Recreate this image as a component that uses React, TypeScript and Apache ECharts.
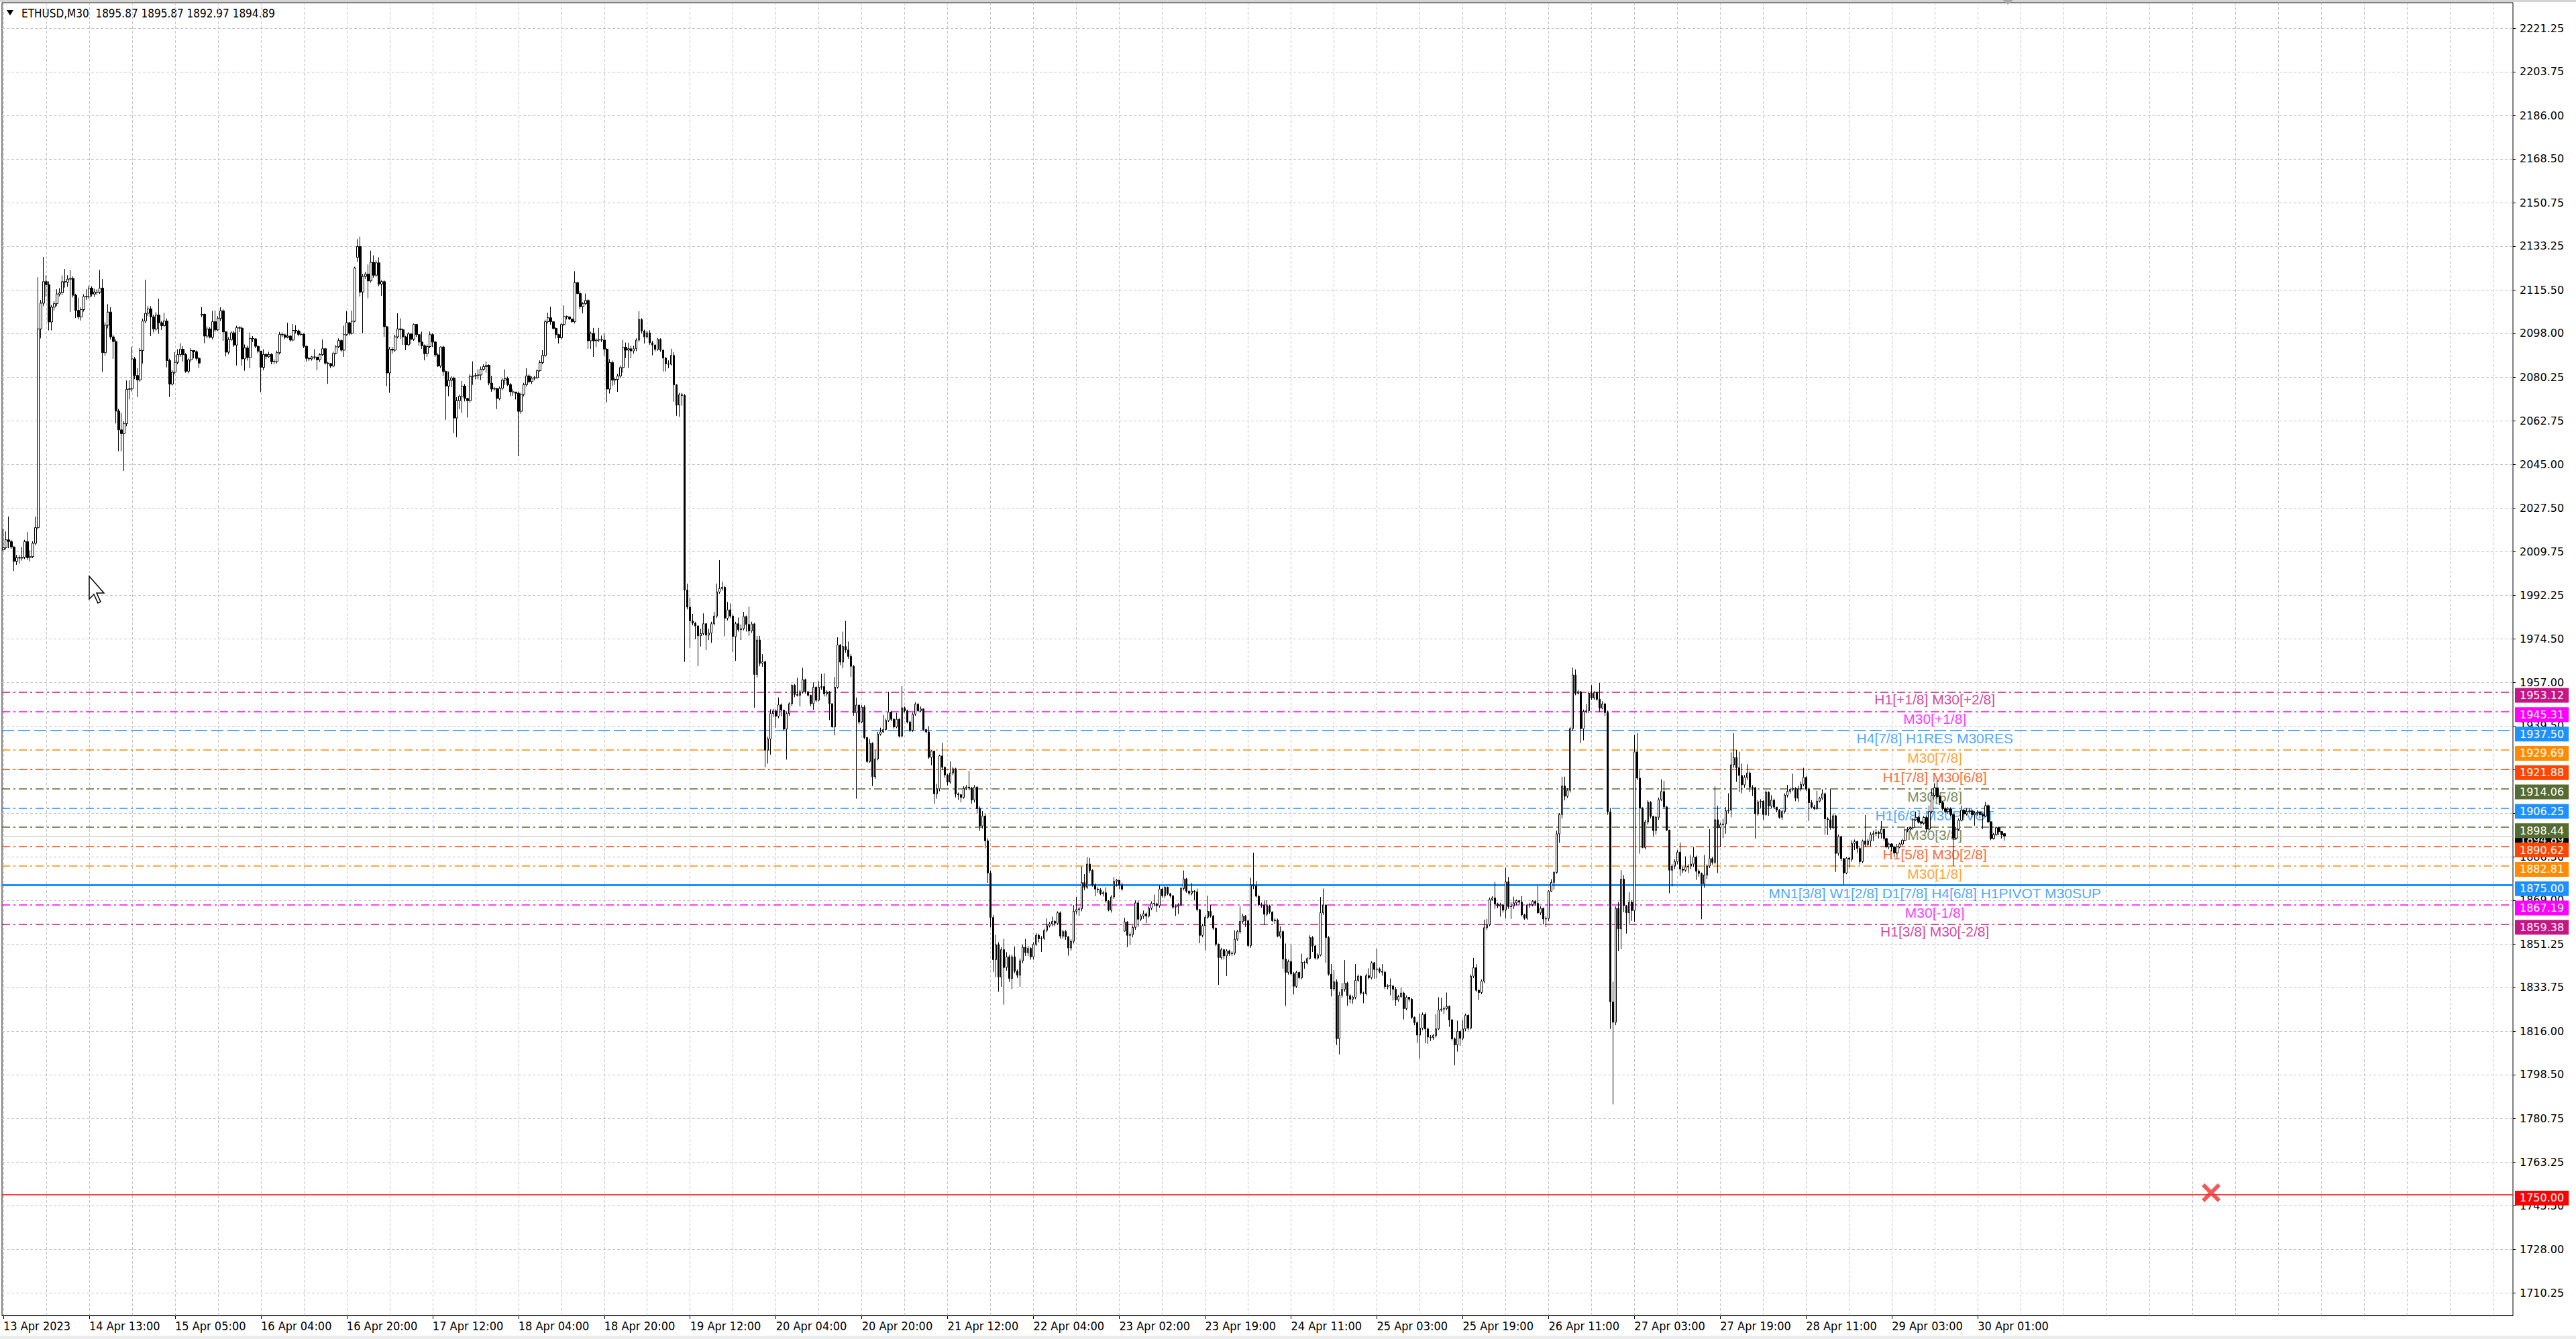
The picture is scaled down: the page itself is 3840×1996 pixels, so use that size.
import React, { useEffect, useRef } from "react";
import * as echarts from "echarts";

const SYMBOL = "ETHUSD";
const TIMEFRAME = "M30";

const X_LABELS = [
  "13 Apr 2023", "14 Apr 13:00", "15 Apr 05:00", "16 Apr 04:00", "16 Apr 20:00", "17 Apr 12:00",
  "18 Apr 04:00", "18 Apr 20:00", "19 Apr 12:00", "20 Apr 04:00", "20 Apr 20:00", "21 Apr 12:00",
  "22 Apr 04:00", "23 Apr 02:00", "23 Apr 19:00", "24 Apr 11:00", "25 Apr 03:00", "25 Apr 19:00",
  "26 Apr 11:00", "27 Apr 03:00", "27 Apr 19:00", "28 Apr 11:00", "29 Apr 03:00", "30 Apr 01:00",
];
const BARS_PER_LABEL = 32;
const SLOT_COUNT = 936;

const Y_TICKS = [
  1710.25, 1728.0, 1745.5, 1763.25, 1780.75, 1798.5, 1816.0, 1833.75, 1851.25, 1869.0,
  1886.5, 1904.25, 1921.75, 1939.5, 1957.0, 1974.5, 1992.25, 2009.75, 2027.5, 2045.0,
  2062.75, 2080.25, 2098.0, 2115.5, 2133.25, 2150.75, 2168.5, 2186.0, 2203.75, 2221.25,
];
const Y_MIN = 1701.2;
const Y_MAX = 2231.6;

// [open, close, low, high]
const CANDLES = [
[2010.6,2011.4,2009.8,2019.0],[2011.4,2014.6,2010.7,2018.0],[2014.6,2013.9,2011.2,2024.0],[2013.9,2011.7,2011.0,2014.6],
[2011.7,2005.9,2002.0,2012.0],[2005.9,2007.4,2004.5,2008.5],[2007.4,2007.2,2005.0,2008.4],[2007.2,2007.6,2006.2,2011.7],
[2007.6,2013.9,2006.8,2014.6],[2013.9,2007.4,2006.5,2017.8],[2007.4,2007.8,2005.9,2010.3],[2007.8,2013.2,2007.2,2014.0],
[2013.2,2019.5,2012.5,2024.0],[2019.5,2099.8,2018.8,2120.7],[2099.8,2110.2,2096.0,2111.5],[2110.2,2118.9,2109.0,2128.9],
[2118.9,2117.7,2112.9,2121.4],[2117.7,2102.6,2099.2,2119.0],[2102.6,2108.6,2099.2,2109.5],[2108.6,2110.0,2107.1,2111.0],
[2110.0,2113.9,2109.0,2115.8],[2113.9,2114.4,2112.9,2116.3],[2114.4,2118.9,2113.5,2121.4],[2118.9,2118.7,2116.5,2124.0],
[2118.7,2119.9,2116.8,2121.5],[2119.9,2120.2,2106.6,2123.6],[2120.2,2113.4,2112.5,2121.0],[2113.4,2107.3,2104.2,2114.0],
[2107.3,2104.7,2103.7,2112.4],[2104.7,2107.6,2103.2,2108.5],[2107.6,2112.9,2106.8,2113.8],[2112.9,2112.7,2111.5,2115.8],
[2112.7,2116.3,2111.9,2117.3],[2116.3,2113.9,2112.9,2117.0],[2113.9,2114.7,2112.7,2116.0],[2114.7,2114.6,2113.6,2115.8],
[2114.6,2116.3,2113.9,2123.6],[2116.3,2090.2,2082.4,2119.9],[2090.2,2101.3,2089.0,2102.5],[2101.3,2106.6,2100.0,2109.8],
[2106.6,2096.6,2095.5,2108.6],[2096.6,2094.7,2087.7,2097.5],[2094.7,2066.6,2061.6,2095.5],[2066.6,2059.0,2050.4,2067.5],
[2059.0,2057.5,2050.4,2065.9],[2057.5,2061.6,2042.4,2062.5],[2061.6,2075.4,2060.5,2079.0],[2075.4,2075.6,2071.3,2079.0],
[2075.6,2087.7,2074.5,2092.6],[2087.7,2081.0,2079.5,2088.5],[2081.0,2079.2,2072.3,2083.9],[2079.2,2091.1,2078.5,2092.0],
[2091.1,2103.0,2085.8,2104.0],[2103.0,2106.1,2102.1,2119.7],[2106.1,2107.9,2105.0,2109.0],[2107.9,2104.7,2096.9,2109.0],
[2104.7,2099.8,2098.4,2105.5],[2099.8,2105.4,2099.0,2106.6],[2105.4,2102.3,2097.9,2112.0],[2102.3,2101.1,2099.4,2103.0],
[2101.1,2103.0,2100.5,2106.3],[2103.0,2087.0,2084.3,2104.0],[2087.0,2077.5,2072.3,2087.8],[2077.5,2082.3,2076.9,2083.2],
[2082.3,2086.3,2081.5,2090.4],[2086.3,2089.4,2085.5,2091.6],[2089.4,2091.6,2088.5,2094.0],[2091.6,2089.4,2086.6,2092.8],
[2089.4,2082.7,2082.1,2090.0],[2082.7,2087.3,2081.8,2087.9],[2087.3,2091.1,2086.5,2092.0],[2091.1,2090.6,2087.9,2091.1],
[2090.6,2087.9,2087.0,2091.1],[2087.9,2086.0,2084.0,2088.5],[2105.4,2105.7,2104.6,2108.6],[2105.7,2096.9,2094.0,2106.0],
[2096.9,2099.8,2096.0,2100.8],[2099.8,2096.4,2096.0,2100.5],[2096.4,2102.7,2095.5,2107.1],[2102.7,2099.4,2098.5,2107.3],
[2099.4,2104.0,2098.9,2105.0],[2104.0,2107.1,2103.0,2108.6],[2107.1,2098.6,2095.0,2107.8],[2098.6,2090.4,2088.7,2098.9],
[2090.4,2095.5,2089.5,2096.5],[2095.5,2098.2,2094.8,2099.0],[2098.2,2093.3,2092.6,2099.0],[2093.3,2100.3,2085.0,2101.1],
[2100.3,2100.1,2098.5,2100.8],[2100.1,2087.7,2085.0,2100.8],[2087.7,2092.1,2082.9,2093.5],[2092.1,2088.2,2087.0,2093.0],
[2088.2,2096.0,2083.9,2098.4],[2096.0,2095.8,2094.5,2096.9],[2095.8,2092.8,2092.0,2096.0],[2092.8,2090.8,2089.9,2093.0],
[2090.8,2084.3,2074.2,2091.0],[2084.3,2089.5,2083.1,2091.6],[2089.5,2088.7,2087.5,2089.9],[2088.7,2089.5,2088.0,2090.6],
[2089.5,2086.5,2085.5,2090.0],[2086.5,2086.6,2085.6,2087.5],[2086.6,2090.2,2085.8,2091.0],[2090.2,2097.6,2089.5,2098.6],
[2097.6,2097.4,2096.5,2098.4],[2097.4,2096.4,2095.6,2097.8],[2096.4,2096.9,2096.0,2102.3],[2096.9,2095.3,2094.5,2097.4],
[2095.3,2099.2,2094.8,2101.8],[2099.2,2099.0,2098.0,2101.3],[2099.0,2097.6,2096.8,2099.5],[2097.6,2097.7,2097.0,2098.9],
[2097.7,2092.8,2092.0,2098.0],[2092.8,2087.9,2086.6,2093.0],[2087.9,2087.7,2086.8,2088.5],[2087.7,2088.5,2087.0,2088.9],
[2088.5,2088.4,2087.5,2091.6],[2088.4,2087.3,2083.1,2088.6],[2087.3,2089.4,2086.5,2090.0],[2089.4,2091.8,2088.8,2095.5],
[2091.8,2086.0,2085.3,2092.0],[2086.0,2085.8,2077.6,2086.5],[2085.8,2084.8,2084.0,2086.0],[2084.8,2089.9,2084.3,2090.6],
[2089.9,2092.6,2089.5,2093.2],[2092.6,2095.1,2092.0,2096.0],[2095.1,2091.2,2090.5,2095.5],[2091.2,2097.5,2088.5,2101.1],
[2097.5,2102.3,2097.0,2107.0],[2102.3,2098.0,2097.2,2102.5],[2098.0,2102.9,2097.5,2107.2],[2102.9,2124.4,2102.5,2124.9],
[2128.7,2133.1,2126.9,2136.1],[2133.1,2114.7,2112.9,2137.1],[2114.7,2121.0,2098.0,2122.0],[2121.0,2121.9,2120.0,2122.8],
[2121.9,2119.2,2112.2,2125.8],[2119.2,2126.7,2118.5,2131.4],[2126.7,2121.5,2120.5,2129.5],[2121.5,2126.5,2120.8,2127.5],
[2126.5,2117.9,2117.0,2128.7],[2117.9,2118.9,2113.2,2119.5],[2118.9,2100.7,2096.6,2119.5],[2100.7,2082.0,2076.7,2101.0],
[2082.0,2091.6,2074.0,2092.5],[2091.6,2091.2,2089.8,2092.5],[2091.2,2096.6,2090.5,2097.5],[2096.6,2099.8,2096.0,2106.1],
[2099.8,2099.5,2095.7,2104.1],[2099.5,2096.6,2093.3,2100.0],[2096.6,2093.4,2091.2,2097.0],[2093.4,2097.8,2093.0,2098.5],
[2097.8,2095.6,2093.6,2098.0],[2095.6,2101.6,2095.0,2102.0],[2101.6,2097.5,2096.5,2101.8],[2097.5,2094.5,2093.0,2097.8],
[2094.5,2093.0,2091.8,2098.7],[2093.0,2089.8,2087.1,2093.5],[2089.8,2092.7,2088.5,2093.5],[2092.7,2097.5,2092.0,2098.7],
[2097.5,2094.5,2092.5,2098.0],[2094.5,2089.3,2088.5,2095.0],[2089.3,2084.8,2084.4,2090.0],[2084.8,2092.5,2084.0,2092.7],
[2092.5,2082.6,2080.8,2093.0],[2082.6,2076.7,2063.1,2083.0],[2076.7,2079.0,2072.6,2082.6],[2079.0,2079.9,2076.3,2080.8],
[2079.9,2063.8,2057.7,2080.5],[2063.8,2070.8,2056.1,2072.2],[2070.8,2072.6,2067.4,2073.3],[2072.6,2076.7,2065.8,2078.8],
[2076.7,2071.7,2070.5,2077.5],[2071.7,2070.8,2064.0,2072.0],[2070.8,2080.6,2070.0,2081.5],[2080.6,2080.8,2077.2,2086.7],
[2080.8,2081.0,2079.5,2082.0],[2081.0,2081.2,2079.4,2083.5],[2081.2,2083.5,2079.1,2084.6],[2083.5,2084.6,2083.0,2085.5],
[2084.6,2085.1,2082.1,2086.7],[2085.1,2077.9,2077.0,2085.5],[2077.9,2075.5,2074.4,2080.8],[2075.5,2075.7,2074.8,2076.5],
[2075.7,2071.7,2067.4,2076.0],[2071.7,2075.8,2071.0,2076.5],[2075.8,2079.1,2075.0,2080.0],[2079.1,2079.7,2077.2,2083.5],
[2079.7,2077.3,2076.7,2080.5],[2077.3,2074.4,2072.6,2078.0],[2074.4,2074.3,2072.8,2075.5],[2074.3,2073.8,2071.3,2074.4],
[2073.8,2066.5,2048.4,2074.5],[2066.5,2073.3,2065.5,2074.0],[2073.3,2077.3,2072.5,2078.0],[2077.3,2080.8,2076.5,2083.9],
[2080.8,2078.5,2077.9,2081.5],[2078.5,2079.9,2077.5,2080.6],[2079.9,2080.1,2079.0,2080.8],[2080.1,2082.9,2079.5,2083.5],
[2082.9,2086.2,2082.5,2087.1],[2086.2,2089.1,2085.5,2091.2],[2089.1,2102.7,2088.5,2103.5],[2102.7,2104.3,2102.0,2106.4],
[2104.3,2102.7,2101.5,2108.8],[2102.7,2100.0,2099.5,2103.0],[2100.0,2097.5,2096.0,2100.5],[2097.5,2096.2,2093.9,2097.8],
[2096.2,2101.6,2095.5,2102.0],[2101.6,2104.8,2101.0,2109.3],[2104.8,2104.7,2103.6,2105.2],[2104.7,2103.8,2103.4,2104.8],
[2103.8,2102.7,2102.3,2104.0],[2102.7,2118.5,2102.0,2123.1],[2118.5,2114.1,2113.8,2118.8],[2114.1,2108.8,2107.7,2115.0],
[2108.8,2110.0,2106.1,2110.6],[2110.0,2111.3,2109.5,2114.1],[2111.3,2095.0,2091.8,2111.8],[2095.0,2098.0,2091.8,2098.7],
[2098.0,2095.0,2088.5,2100.2],[2095.0,2095.3,2092.5,2096.0],[2095.3,2095.4,2094.5,2100.2],[2095.4,2095.3,2094.5,2097.1],
[2095.3,2091.6,2088.9,2098.0],[2091.6,2075.5,2070.1,2092.0],[2075.5,2086.2,2073.7,2087.6],[2086.2,2079.1,2076.7,2087.0],
[2079.1,2079.4,2077.2,2080.0],[2079.4,2080.8,2074.4,2081.7],[2080.8,2084.2,2080.0,2085.0],[2084.2,2092.4,2082.1,2095.4],
[2092.4,2091.2,2088.0,2094.3],[2091.2,2091.8,2084.0,2094.2],[2091.8,2090.9,2088.0,2093.0],[2090.9,2091.8,2089.8,2093.0],
[2091.8,2095.3,2090.8,2096.0],[2095.3,2103.6,2094.5,2107.0],[2103.6,2098.9,2098.0,2104.1],[2098.9,2096.6,2093.9,2099.5],
[2096.6,2098.2,2096.0,2099.1],[2098.2,2094.2,2093.4,2099.3],[2094.2,2093.3,2089.1,2095.0],[2093.3,2091.5,2090.7,2093.5],
[2091.5,2095.6,2091.0,2096.2],[2095.6,2091.2,2090.5,2096.0],[2091.2,2088.0,2082.6,2091.5],[2088.0,2085.7,2082.6,2088.5],
[2085.7,2085.5,2083.9,2087.1],[2085.5,2089.1,2085.0,2091.8],[2089.1,2077.2,2070.4,2090.5],[2077.2,2069.0,2064.7,2077.5],
[2069.0,2073.2,2064.3,2074.0],[2073.2,2072.9,2068.8,2074.0],[2072.9,1994.3,1965.3,2073.5],[1994.3,1987.4,1986.5,1996.9],
[1987.4,1981.8,1971.0,1991.2],[1981.8,1980.9,1980.0,1984.7],[1980.9,1979.8,1974.4,1981.5],[1979.8,1975.8,1963.6,1980.0],
[1975.8,1976.7,1971.5,1978.7],[1976.7,1980.7,1976.0,1984.9],[1980.7,1976.1,1970.1,1981.0],[1976.1,1976.9,1974.1,1978.7],
[1976.9,1980.7,1973.0,1981.5],[1980.7,1983.8,1980.0,1985.5],[1983.8,1993.5,1983.0,1996.9],[1993.5,1994.9,1992.8,2006.4],
[1994.9,1995.4,1994.0,1997.7],[1995.4,1982.9,1975.6,1996.0],[1982.9,1986.3,1982.0,1989.5],[1986.3,1983.8,1983.0,1988.9],
[1983.8,1975.5,1969.3,1984.5],[1975.5,1980.7,1965.7,1981.5],[1980.7,1978.3,1977.5,1983.2],[1978.3,1978.7,1974.1,1980.4],
[1978.7,1983.6,1978.0,1985.5],[1983.6,1980.4,1977.5,1984.0],[1980.4,1977.8,1975.8,1987.6],[1977.8,1980.6,1977.0,1981.5],
[1980.6,1960.2,1946.7,1981.0],[1960.2,1974.1,1959.0,1975.8],[1974.1,1964.7,1963.5,1975.8],[1964.7,1965.3,1963.3,1968.4],
[1965.3,1929.6,1922.7,1965.8],[1929.6,1934.1,1924.2,1935.0],[1934.1,1944.4,1927.8,1946.1],[1944.4,1945.5,1943.0,1946.3],
[1945.5,1943.3,1938.7,1946.0],[1943.3,1947.9,1942.5,1950.9],[1947.9,1945.8,1943.3,1948.5],[1945.8,1938.1,1937.5,1946.0],
[1938.1,1944.4,1925.8,1945.0],[1944.4,1948.4,1943.5,1949.0],[1948.4,1955.8,1947.5,1956.2],[1955.8,1952.1,1951.0,1956.4],
[1952.1,1951.8,1951.3,1958.9],[1951.8,1953.2,1947.3,1954.0],[1953.2,1958.1,1952.5,1962.9],[1958.1,1953.2,1952.5,1958.5],
[1953.2,1951.8,1951.3,1953.5],[1951.8,1948.4,1947.3,1952.0],[1948.4,1955.0,1945.9,1957.0],[1955.0,1949.8,1949.0,1955.5],
[1949.8,1955.0,1949.3,1957.5],[1955.0,1955.3,1954.0,1960.4],[1955.3,1952.4,1951.3,1960.7],[1952.4,1953.0,1951.3,1953.8],
[1953.0,1948.4,1941.8,1953.5],[1948.4,1939.0,1938.7,1948.0],[1939.0,1955.0,1935.6,1959.2],[1955.0,1972.1,1954.5,1975.2],
[1972.1,1965.2,1964.0,1972.5],[1965.2,1971.5,1962.7,1977.5],[1971.5,1970.1,1969.0,1981.8],[1970.1,1967.5,1966.5,1973.5],
[1967.5,1963.5,1959.2,1968.4],[1963.5,1944.7,1943.5,1964.0],[1944.7,1947.8,1910.0,1950.9],[1947.8,1941.0,1940.0,1948.0],
[1941.0,1947.0,1940.5,1947.8],[1947.0,1934.7,1934.1,1947.8],[1934.7,1925.0,1924.5,1935.0],[1925.0,1932.4,1924.5,1934.1],
[1932.4,1918.9,1915.1,1932.8],[1918.9,1926.1,1918.0,1929.6],[1926.1,1936.1,1925.5,1937.0],[1936.1,1937.0,1935.5,1938.7],
[1937.0,1937.9,1936.5,1943.8],[1937.9,1941.6,1937.5,1942.4],[1941.6,1945.0,1941.0,1953.2],[1945.0,1942.1,1941.3,1945.5],
[1942.1,1939.0,1938.3,1942.5],[1939.0,1942.1,1938.5,1944.7],[1942.1,1935.3,1934.7,1942.5],[1935.3,1946.7,1934.8,1955.5],
[1946.7,1945.5,1944.8,1947.3],[1945.5,1941.0,1940.4,1946.0],[1941.0,1937.6,1937.0,1941.5],[1937.6,1944.1,1937.0,1944.8],
[1944.1,1948.2,1943.5,1949.0],[1948.2,1945.5,1945.0,1948.6],[1945.5,1946.3,1945.0,1947.3],[1946.3,1937.9,1937.6,1946.5],
[1937.9,1937.0,1936.4,1938.2],[1937.0,1926.7,1926.1,1939.3],[1926.7,1929.2,1923.5,1929.6],[1929.2,1912.0,1908.0,1929.5],
[1912.0,1914.0,1910.0,1916.0],[1914.0,1927.3,1913.0,1927.8],[1927.3,1922.7,1921.5,1932.5],[1922.7,1919.6,1918.5,1923.0],
[1919.6,1916.7,1915.3,1920.0],[1916.7,1920.4,1916.0,1925.0],[1920.4,1922.1,1919.5,1922.8],[1922.1,1911.9,1910.5,1922.5],
[1911.9,1911.6,1909.5,1912.5],[1911.6,1910.5,1908.5,1912.0],[1910.5,1914.2,1910.0,1915.0],[1914.2,1914.7,1913.5,1915.5],
[1914.7,1914.3,1913.5,1921.2],[1914.3,1909.5,1908.0,1914.8],[1909.5,1914.7,1908.5,1915.5],[1914.7,1906.0,1904.0,1915.0],
[1906.0,1899.0,1897.0,1907.0],[1899.0,1903.0,1898.0,1905.0],[1903.0,1893.0,1890.0,1904.0],[1893.0,1880.0,1876.0,1894.0],
[1880.0,1862.0,1858.0,1881.0],[1862.0,1845.0,1840.0,1863.0],[1845.0,1851.0,1838.0,1855.0],[1851.0,1838.0,1832.0,1852.0],
[1838.0,1849.0,1834.0,1850.0],[1849.0,1841.8,1826.8,1853.4],[1841.8,1846.1,1840.5,1848.0],[1846.1,1837.4,1836.0,1847.0],
[1837.4,1846.1,1833.1,1847.0],[1846.1,1840.3,1839.5,1850.3],[1840.3,1838.7,1837.5,1841.0],[1838.7,1844.5,1834.0,1845.5],
[1844.5,1850.0,1843.5,1851.0],[1850.0,1847.8,1846.5,1853.4],[1847.8,1849.5,1846.5,1850.5],[1849.5,1846.1,1845.0,1850.0],
[1846.1,1851.2,1845.0,1852.0],[1851.2,1854.8,1850.5,1855.8],[1854.8,1853.4,1852.0,1855.5],[1853.4,1853.6,1848.1,1854.5],
[1853.6,1856.8,1853.0,1857.5],[1856.8,1858.7,1856.0,1861.6],[1858.7,1859.4,1858.0,1860.2],[1859.4,1860.4,1858.5,1862.3],
[1860.4,1859.7,1858.5,1861.0],[1859.7,1863.9,1859.0,1864.5],[1863.9,1854.5,1853.4,1864.5],[1854.5,1856.3,1853.4,1857.0],
[1856.3,1854.2,1853.0,1857.0],[1854.2,1849.7,1846.6,1854.5],[1849.7,1852.4,1848.5,1853.2],[1852.4,1864.5,1851.5,1867.0],
[1864.5,1865.2,1863.5,1870.3],[1865.2,1865.5,1862.6,1866.3],[1865.5,1876.1,1864.5,1882.6],[1876.1,1874.2,1873.0,1879.5],
[1874.2,1883.6,1873.5,1886.3],[1883.6,1881.0,1880.0,1886.1],[1881.0,1875.2,1874.5,1881.5],[1875.2,1873.5,1870.6,1875.8],
[1873.5,1873.2,1872.0,1874.2],[1873.2,1871.6,1871.0,1873.8],[1871.6,1872.0,1870.5,1872.8],[1872.0,1868.7,1868.0,1874.2],
[1868.7,1865.0,1864.5,1869.0],[1865.0,1870.3,1864.0,1871.0],[1870.3,1876.6,1869.5,1878.4],[1876.6,1877.1,1874.5,1877.6],
[1877.1,1875.2,1873.5,1877.1],[1875.2,1873.5,1872.7,1876.1],[1856.5,1860.2,1856.3,1861.9],[1860.2,1854.8,1850.0,1860.5],
[1854.8,1855.1,1851.0,1856.0],[1855.1,1858.0,1854.0,1858.8],[1858.0,1867.9,1857.0,1868.9],[1867.9,1861.3,1858.2,1868.9],
[1861.3,1862.6,1860.5,1863.5],[1862.6,1863.5,1861.5,1864.8],[1863.5,1862.6,1859.7,1864.0],[1862.6,1865.8,1862.0,1866.5],
[1865.8,1867.7,1865.0,1868.5],[1867.7,1867.5,1866.5,1871.3],[1867.5,1866.8,1864.2,1868.0],[1866.8,1873.5,1866.0,1875.2],
[1873.5,1870.8,1870.0,1874.0],[1870.8,1874.2,1870.0,1874.7],[1874.2,1871.6,1871.0,1874.5],[1871.6,1870.8,1870.0,1872.0],
[1870.8,1866.2,1865.5,1871.0],[1866.2,1866.5,1862.6,1867.3],[1866.5,1867.0,1863.5,1867.8],[1867.0,1873.7,1866.5,1874.5],
[1873.7,1877.6,1873.0,1881.0],[1877.6,1872.6,1872.0,1878.0],[1872.6,1871.8,1871.0,1873.0],[1871.8,1872.7,1871.0,1875.9],
[1872.7,1872.3,1868.9,1873.0],[1872.3,1865.2,1864.5,1873.7],[1865.2,1854.8,1851.6,1865.5],[1854.8,1858.7,1854.0,1859.5],
[1858.7,1862.1,1848.7,1863.0],[1862.1,1864.5,1861.5,1870.8],[1864.5,1862.6,1862.0,1867.0],[1862.6,1857.7,1857.0,1863.0],
[1857.7,1851.2,1850.5,1858.0],[1851.2,1845.8,1834.8,1851.5],[1845.8,1849.0,1845.0,1849.8],[1849.0,1846.5,1845.0,1849.2],
[1846.5,1848.5,1838.4,1849.2],[1848.5,1847.4,1846.5,1849.0],[1847.4,1847.6,1846.5,1848.3],[1847.6,1853.2,1846.8,1856.8],
[1853.2,1856.3,1852.5,1857.0],[1856.3,1860.4,1855.5,1866.5],[1860.4,1862.6,1859.5,1863.5],[1862.6,1860.7,1858.2,1863.0],
[1860.7,1850.7,1850.0,1861.0],[1850.7,1875.2,1849.7,1878.1],[1875.2,1874.7,1873.5,1888.2],[1874.7,1870.6,1870.0,1876.8],
[1870.6,1867.1,1866.5,1871.0],[1867.1,1866.9,1866.0,1868.0],[1866.9,1863.3,1859.0,1868.9],[1863.3,1866.7,1862.5,1868.9],
[1866.7,1864.2,1863.5,1867.2],[1864.2,1860.7,1860.2,1864.5],[1860.7,1861.0,1859.5,1861.8],[1861.0,1854.5,1854.0,1861.5],
[1854.5,1856.3,1853.5,1858.4],[1856.3,1845.2,1841.3,1856.8],[1845.2,1839.8,1826.3,1851.5],[1839.8,1844.2,1838.9,1845.0],
[1844.2,1839.3,1838.5,1851.2],[1839.3,1834.2,1830.9,1840.0],[1834.2,1839.8,1833.5,1840.5],[1839.8,1837.7,1837.0,1840.2],
[1837.7,1843.9,1837.0,1847.4],[1843.9,1843.7,1841.3,1844.5],[1843.7,1845.4,1843.0,1846.0],[1845.4,1853.9,1845.0,1854.8],
[1853.9,1850.5,1848.1,1854.5],[1850.5,1845.6,1845.0,1851.0],[1845.6,1846.8,1845.0,1847.5],[1846.8,1863.9,1846.3,1870.3],
[1863.9,1867.0,1863.0,1873.7],[1867.0,1853.9,1843.7,1867.5],[1853.9,1839.1,1838.5,1854.5],[1839.1,1833.2,1830.1,1843.2],
[1833.2,1836.0,1832.5,1840.8],[1836.0,1813.0,1810.5,1837.0],[1813.0,1830.6,1806.7,1832.0],[1830.6,1833.0,1829.5,1835.5],
[1833.0,1835.5,1832.0,1844.8],[1835.5,1830.4,1826.3,1836.0],[1830.4,1829.0,1827.4,1831.0],[1829.0,1829.8,1827.2,1830.5],
[1829.8,1836.6,1829.0,1843.2],[1836.6,1838.3,1836.0,1839.0],[1838.3,1831.5,1830.8,1838.5],[1831.5,1831.3,1827.4,1832.0],
[1831.3,1838.5,1830.5,1839.3],[1838.5,1837.7,1837.0,1841.5],[1837.7,1843.7,1837.0,1844.3],[1843.7,1841.0,1837.2,1844.0],
[1841.0,1841.2,1837.4,1849.4],[1841.2,1840.2,1839.5,1841.8],[1840.2,1839.9,1838.5,1843.2],[1839.9,1834.1,1833.0,1840.5],
[1834.1,1834.5,1833.0,1835.0],[1834.5,1834.3,1830.6,1837.4],[1834.3,1833.0,1828.5,1834.8],[1833.0,1828.7,1826.3,1834.0],
[1828.7,1830.1,1828.0,1830.8],[1830.1,1831.5,1829.5,1833.7],[1831.5,1825.2,1820.8,1832.0],[1825.2,1829.8,1824.5,1830.5],
[1829.8,1829.0,1828.0,1829.8],[1829.0,1821.7,1821.0,1829.5],[1821.7,1819.5,1818.5,1822.0],[1819.5,1814.5,1811.2,1820.0],
[1814.5,1817.3,1805.0,1823.2],[1817.3,1822.8,1816.5,1823.6],[1822.8,1817.0,1811.2,1823.6],[1817.0,1813.7,1811.0,1817.5],
[1813.7,1813.5,1812.1,1814.5],[1813.5,1814.3,1812.5,1815.0],[1814.3,1817.0,1813.5,1823.0],[1817.0,1824.6,1816.5,1829.8],
[1824.6,1825.0,1824.0,1829.5],[1825.0,1825.2,1823.0,1826.0],[1825.2,1826.1,1824.5,1831.7],[1826.1,1820.6,1817.8,1826.5],
[1820.6,1813.0,1812.3,1821.0],[1813.0,1810.5,1802.3,1813.5],[1810.5,1816.0,1807.8,1820.3],[1816.0,1813.2,1810.2,1816.5],
[1813.2,1817.0,1812.5,1820.6],[1817.0,1822.5,1816.0,1823.2],[1822.5,1817.3,1816.5,1823.0],[1817.3,1838.3,1816.8,1839.0],
[1838.3,1841.7,1837.5,1845.7],[1841.7,1832.6,1831.9,1843.2],[1832.6,1831.7,1828.7,1833.0],[1831.7,1836.3,1831.0,1837.0],
[1836.3,1857.9,1835.5,1861.1],[1857.9,1859.2,1857.0,1861.4],[1859.2,1869.3,1858.5,1870.1],[1869.3,1869.9,1868.8,1870.6],
[1869.9,1867.5,1865.5,1876.4],[1867.5,1866.6,1865.7,1868.0],[1866.6,1867.1,1862.4,1868.0],[1867.1,1865.0,1864.0,1867.5],
[1865.0,1876.4,1861.7,1882.1],[1876.4,1866.4,1865.5,1878.4],[1866.4,1866.6,1861.4,1868.2],[1866.6,1867.9,1865.5,1870.4],
[1867.9,1868.8,1867.0,1869.3],[1868.8,1868.2,1867.0,1869.0],[1868.2,1863.1,1862.5,1870.7],[1863.1,1861.7,1861.1,1863.5],
[1861.7,1867.1,1861.0,1867.5],[1867.1,1867.2,1866.0,1868.0],[1867.2,1868.5,1866.5,1869.0],[1868.5,1867.7,1866.8,1869.0],
[1867.7,1863.9,1863.5,1874.8],[1863.9,1865.7,1863.0,1866.5],[1865.7,1861.4,1859.2,1866.0],[1861.4,1861.6,1858.1,1862.5],
[1861.6,1872.6,1860.5,1873.1],[1872.6,1876.2,1872.3,1877.5],[1876.2,1880.2,1873.3,1880.7],[1880.2,1895.8,1879.7,1897.1],
[1895.8,1903.6,1892.2,1904.2],[1903.6,1915.1,1902.0,1918.9],[1915.1,1911.0,1909.3,1918.9],[1911.0,1913.4,1910.3,1914.2],
[1913.4,1938.3,1912.5,1939.0],[1938.3,1960.0,1937.4,1963.0],[1960.0,1952.6,1951.8,1962.2],[1952.6,1953.2,1952.1,1954.0],
[1953.2,1938.3,1932.5,1953.5],[1938.3,1945.2,1933.6,1946.0],[1945.2,1945.5,1944.5,1948.3],[1945.5,1952.6,1944.5,1953.3],
[1952.6,1950.7,1950.0,1955.9],[1950.7,1952.9,1950.0,1953.5],[1952.9,1950.2,1949.5,1953.2],[1950.2,1946.6,1945.0,1956.8],
[1946.6,1948.3,1946.1,1949.4],[1948.3,1944.8,1943.4,1948.8],[1944.8,1904.7,1903.5,1945.6],[1904.7,1827.9,1817.0,1906.3],
[1827.9,1819.7,1786.5,1836.1],[1819.7,1865.7,1818.5,1866.5],[1865.7,1857.4,1848.4,1868.2],[1857.4,1877.5,1849.2,1881.1],
[1877.5,1866.8,1864.2,1879.1],[1866.8,1863.9,1855.5,1867.0],[1863.9,1868.2,1859.5,1872.3],[1868.2,1864.8,1860.6,1869.0],
[1864.8,1928.9,1860.3,1935.8],[1928.9,1918.3,1917.5,1936.5],[1918.3,1906.3,1887.8,1922.1],[1906.3,1890.3,1890.0,1906.5],
[1890.3,1900.6,1889.5,1901.5],[1900.6,1908.6,1899.5,1909.4],[1908.6,1902.9,1902.0,1909.0],[1902.9,1897.1,1894.7,1903.0],
[1897.1,1902.5,1895.5,1903.1],[1902.5,1909.6,1901.4,1910.5],[1909.6,1912.9,1909.0,1917.8],[1912.9,1906.7,1906.0,1917.2],
[1906.7,1897.3,1896.9,1907.0],[1897.3,1881.1,1871.8,1897.5],[1881.1,1882.8,1874.5,1883.5],[1882.8,1884.6,1881.5,1885.5],
[1884.6,1888.4,1883.5,1889.3],[1888.4,1881.6,1878.8,1892.3],[1881.6,1881.1,1880.0,1882.5],[1881.1,1882.4,1880.5,1886.7],
[1882.4,1882.8,1880.0,1883.5],[1882.8,1883.6,1881.5,1887.2],[1883.6,1886.4,1882.5,1890.5],[1886.4,1880.7,1877.2,1887.0],
[1880.7,1879.8,1878.5,1881.5],[1879.8,1875.6,1861.3,1880.2],[1875.6,1879.2,1874.0,1887.2],[1879.2,1882.8,1877.6,1883.5],
[1882.8,1885.8,1882.0,1897.7],[1885.8,1884.3,1883.4,1886.5],[1884.3,1901.5,1883.5,1915.0],[1901.5,1898.3,1880.0,1907.2],
[1898.3,1899.5,1890.5,1900.3],[1899.5,1899.8,1894.1,1901.9],[1899.8,1905.1,1895.9,1906.6],[1905.1,1905.4,1904.0,1912.2],
[1905.4,1923.7,1902.5,1928.7],[1923.7,1926.6,1922.5,1936.5],[1926.6,1922.5,1916.8,1929.7],[1922.5,1919.4,1912.6,1929.0],
[1919.4,1915.6,1912.2,1924.2],[1915.6,1918.6,1914.4,1919.5],[1918.6,1920.4,1917.5,1923.9],[1920.4,1914.6,1912.6,1921.0],
[1914.6,1914.4,1911.1,1915.5],[1914.4,1903.9,1893.9,1914.8],[1903.9,1908.7,1903.1,1909.5],[1908.7,1909.0,1906.0,1909.8],
[1909.0,1903.6,1901.5,1909.5],[1903.6,1912.6,1903.0,1913.4],[1912.6,1907.0,1903.1,1913.0],[1907.0,1909.4,1906.0,1911.4],
[1909.4,1906.6,1905.8,1910.0],[1906.6,1905.4,1904.5,1906.6],[1905.4,1902.5,1901.9,1905.8],[1902.5,1904.8,1901.5,1905.5],
[1904.8,1911.4,1904.0,1912.2],[1911.4,1913.0,1910.5,1915.6],[1913.0,1913.8,1912.0,1914.4],[1913.8,1914.2,1913.0,1920.1],
[1914.2,1910.2,1909.0,1914.6],[1910.2,1914.0,1908.7,1915.3],[1914.0,1915.8,1913.0,1917.0],[1915.8,1918.6,1915.0,1922.5],
[1918.6,1913.8,1913.0,1919.2],[1913.8,1908.4,1901.0,1914.5],[1908.4,1906.6,1906.0,1909.5],[1906.6,1906.0,1905.4,1907.5],
[1906.0,1909.0,1905.5,1913.2],[1909.0,1910.2,1908.5,1910.8],[1910.2,1912.0,1909.5,1913.8],[1912.0,1901.9,1895.5,1912.5],
[1901.9,1901.5,1895.3,1902.5],[1901.5,1898.3,1897.5,1913.8],[1898.3,1903.1,1897.7,1904.0],[1903.1,1887.9,1880.4,1903.5],
[1887.9,1894.7,1887.0,1895.5],[1894.7,1885.8,1884.8,1895.0],[1885.8,1880.0,1875.3,1886.0],[1880.0,1886.0,1879.5,1886.4],
[1886.0,1885.5,1882.2,1886.5],[1885.5,1891.9,1884.5,1893.2],[1891.9,1892.7,1889.3,1893.5],[1892.7,1889.9,1888.1,1893.0],
[1889.9,1884.6,1883.4,1890.5],[1884.6,1892.9,1884.0,1893.5],[1892.9,1891.5,1890.5,1903.4],[1891.5,1892.9,1890.8,1893.9],
[1892.9,1895.5,1890.8,1896.5],[1895.5,1895.9,1892.9,1897.1],[1895.9,1896.5,1895.0,1897.7],[1896.5,1895.9,1893.9,1897.0],
[1895.9,1897.7,1893.9,1901.0],[1897.7,1893.9,1893.0,1898.0],[1893.9,1890.5,1890.0,1894.2],[1890.5,1891.7,1889.6,1892.3],
[1891.7,1890.5,1888.7,1892.0],[1890.5,1888.1,1886.4,1891.0],[1888.1,1890.5,1887.5,1891.7],[1890.5,1891.7,1890.0,1892.3],
[1891.7,1893.2,1891.0,1893.8],[1893.2,1897.4,1892.8,1897.9],[1897.4,1897.7,1896.5,1898.5],[1897.7,1898.3,1897.0,1899.0],
[1898.3,1901.5,1897.5,1902.2],[1901.5,1902.4,1901.0,1904.8],[1902.4,1900.7,1900.0,1903.0],[1900.7,1900.1,1899.2,1901.0],
[1900.1,1902.4,1899.5,1903.0],[1902.4,1897.7,1896.5,1903.0],[1897.7,1904.8,1897.0,1907.2],[1904.8,1911.4,1904.0,1913.8],
[1911.4,1914.4,1910.8,1916.2],[1914.4,1910.8,1910.0,1917.4],[1910.8,1908.4,1907.5,1911.5],[1908.4,1906.0,1905.2,1909.0],
[1906.0,1904.8,1904.2,1906.8],[1904.8,1905.8,1904.0,1906.6],[1905.8,1903.6,1903.0,1906.5],[1903.6,1894.1,1882.8,1904.0],
[1894.1,1897.7,1893.5,1898.5],[1897.7,1901.3,1897.0,1902.0],[1901.3,1905.4,1900.8,1907.2],[1905.4,1903.9,1902.5,1906.0],
[1903.9,1904.8,1903.2,1906.2],[1904.8,1905.1,1904.0,1906.0],[1905.1,1903.6,1902.4,1905.8],[1903.6,1904.2,1899.1,1905.0],
[1904.2,1904.5,1903.2,1905.3],[1904.5,1903.6,1901.9,1904.8],[1903.6,1903.0,1897.7,1904.2],[1903.0,1907.2,1902.5,1908.7],
[1907.2,1900.7,1900.1,1907.8],[1900.7,1893.9,1893.2,1901.0],[1893.9,1895.5,1893.5,1896.2],[1895.5,1898.3,1895.0,1898.9],
[1898.3,1896.7,1895.3,1898.6],[1896.7,1895.5,1893.9,1896.9],[1895.87,1894.89,1892.97,1895.87],
];

const LEVEL_PRICES = [1953.12, 1945.31, 1937.5, 1929.69, 1921.88, 1914.06, 1906.25, 1898.44, 1890.62, 1882.81, 1875.0, 1867.19, 1859.38];
const LEVEL_LABELS = [
  "H1[+1/8] M30[+2/8]", "M30[+1/8]", "H4[7/8] H1RES M30RES", "M30[7/8]", "H1[7/8] M30[6/8]", "M30[5/8]",
  "H1[6/8] M30PIVOT", "M30[3/8]", "H1[5/8] M30[2/8]", "M30[1/8]", "MN1[3/8] W1[2/8] D1[7/8] H4[6/8] H1PIVOT M30SUP",
  "M30[-1/8]", "H1[3/8] M30[-2/8]",
];
const BID_PRICE = 1894.89;
const ALERT_PRICE = 1750.0;
const ALERT_MARK = [823, 1750.8];
const LEVEL_LABEL_SLOT = 720;

// styles
const VR = "#C71585", MG = "#FF00FF", DB = "#1E90FF", DO = "#FF8C00", OR = "#FF4500", OL = "#556B2F";
const LEVEL_COLORS = [VR, MG, DB, DO, OR, OL, DB, OL, OR, DO, DB, MG, VR];
const DASHDOT = [12, 5, 3, 5];
const DASH = [18, 6];
const LEVEL_DASH: any[] = [DASHDOT, DASHDOT, DASH, DASHDOT, DASHDOT, DASHDOT, DASHDOT, DASHDOT, DASHDOT, DASHDOT, "solid", DASHDOT, DASHDOT];
const GRID_COLOR = "#c4c4c4";
const AXIS_FONT = "DejaVu Sans";
const TIME_FONT = "'DejaVu Sans Condensed', 'Liberation Sans Narrow', 'Arial Narrow', sans-serif";

function badge(color: string) {
  return {
    show: true,
    position: "end",
    distance: 3,
    offset: [0, 5],
    formatter: (p: any) => Number(p.value).toFixed(2),
    backgroundColor: color,
    color: "#ffffff",
    fontFamily: AXIS_FONT,
    fontSize: 16,
    lineHeight: 16,
    padding: [3, 7, 3, 7],
  };
}

export default function App() {
  const ref = useRef<HTMLDivElement>(null);

  useEffect(() => {
    if (!ref.current) return;
    const chart = echarts.init(ref.current, null, { renderer: "svg" });

    const cats: string[] = [];
    for (let i = 0; i < SLOT_COUNT; i++) cats.push(String(i));
    const isLabelSlot = (i: number) => i % BARS_PER_LABEL === 0 && i / BARS_PER_LABEL < X_LABELS.length;

    const candleData = CANDLES.map(([o, c, l, h]) => [o, c, Math.min(l, o, c), Math.max(h, o, c)]);
    const last = CANDLES[CANDLES.length - 1];
    const header = `${SYMBOL},${TIMEFRAME}\u00a0\u00a0${last[0].toFixed(2)} ${last[3].toFixed(2)} ${last[2].toFixed(2)} ${last[1].toFixed(2)}`;

    const markData: any[] = [
      { yAxis: BID_PRICE, lineStyle: { color: "#c0c0c0", width: 1, type: "solid" }, label: badge("#000000") },
      ...LEVEL_PRICES.map((p, i) => ({
        yAxis: p,
        lineStyle: { color: LEVEL_COLORS[i], width: i === 10 ? 3 : 1.5, type: LEVEL_DASH[i] },
        label: badge(LEVEL_COLORS[i]),
      })),
      { yAxis: ALERT_PRICE, lineStyle: { color: "#ff0000", width: 1.5, type: "solid" }, label: badge("#ff0000") },
    ];

    chart.setOption({
      animation: false,
      backgroundColor: "#ffffff",
      grid: {
        left: 3, right: 94, top: 4, bottom: 35,
        show: true, borderColor: "#000000", borderWidth: 1, backgroundColor: "#ffffff",
        containLabel: false, outerBoundsMode: "none",
      },
      xAxis: {
        type: "category",
        data: cats,
        boundaryGap: true,
        axisLine: { show: true, lineStyle: { color: "#000000", width: 1 } },
        axisTick: {
          show: true, alignWithLabel: true, length: 5,
          interval: (i: number) => isLabelSlot(i),
          lineStyle: { color: "#000000" },
        },
        axisLabel: {
          interval: (i: number) => isLabelSlot(i),
          formatter: (_v: string, i: number) => (isLabelSlot(i) ? X_LABELS[i / BARS_PER_LABEL] : ""),
          align: "left",
          margin: 6,
          color: "#000000",
          fontFamily: TIME_FONT,
          fontSize: 18,
        },
        splitLine: {
          show: true, interval: 15, alignWithLabel: true,
          lineStyle: { color: GRID_COLOR, type: [4, 3], width: 1 },
        },
      },
      yAxis: {
        type: "value",
        position: "right",
        min: Y_MIN,
        max: Y_MAX,
        axisLine: { show: false },
        axisTick: { show: true, length: 4, customValues: Y_TICKS, lineStyle: { color: "#000000" } },
        axisLabel: {
          customValues: Y_TICKS,
          formatter: (v: number) => v.toFixed(2),
          margin: 10,
          color: "#000000",
          fontFamily: AXIS_FONT,
          fontSize: 16,
        },
        splitLine: { show: true, lineStyle: { color: GRID_COLOR, type: [4, 3], width: 1 } },
      },
      graphic: [
        { type: "rect", shape: { x: 0, y: 0, width: 3840, height: 3 }, style: { fill: "#d4d4d4" }, silent: true },
        { type: "rect", shape: { x: 0, y: 1991, width: 3840, height: 5 }, style: { fill: "#ececec" }, silent: true },
        { type: "polygon", shape: { points: [[10, 15], [20, 15], [15, 23]] }, style: { fill: "#000000" }, silent: true },
        {
          type: "text", x: 32, y: 20,
          style: { text: header, fill: "#000000", fontSize: 17, fontFamily: TIME_FONT, verticalAlign: "middle" },
          silent: true,
        },
        { type: "polygon", shape: { points: [[2985, 0], [3001, 0], [2993, 7]] }, style: { fill: "#a8a8a8" }, silent: true },
        {
          type: "polygon", z: 100,
          shape: { points: [[133, 859], [133, 893], [140, 886], [146, 899], [150, 897], [144, 884], [155, 884]] },
          style: { fill: "#ffffff", stroke: "#000000", lineWidth: 1.5 }, silent: true,
        },
      ],
      series: [
        {
          type: "scatter",
          z: 3,
          symbolSize: 0,
          silent: true,
          data: LEVEL_PRICES.map((p, i) => ({
            value: [LEVEL_LABEL_SLOT, p],
            label: { formatter: LEVEL_LABELS[i], color: LEVEL_COLORS[i] },
          })),
          label: {
            show: true, position: "bottom", distance: 1,
            fontFamily: "'Liberation Sans', Arial, sans-serif", fontSize: 21,
          },
        },
        {
          type: "candlestick",
          z: 5,
          large: false,
          barWidth: 3,
          data: candleData,
          itemStyle: {
            color: "#ffffff", color0: "#000000",
            borderColor: "#000000", borderColor0: "#000000", borderWidth: 1,
          },
          silent: true,
        },
        {
          type: "line",
          z: 6,
          data: [],
          silent: true,
          markLine: {
            silent: true,
            symbol: ["none", "none"],
            animation: false,
            data: markData,
          },
        },
        {
          type: "scatter",
          z: 7,
          silent: true,
          symbol: "path://M0,3 L3,0 L10,7 L17,0 L20,3 L13,10 L20,17 L17,20 L10,13 L3,20 L0,17 L7,10 Z",
          symbolSize: 28,
          itemStyle: { color: "#f03030" },
          data: [ALERT_MARK],
        },
      ],
    });

    return () => chart.dispose();
  }, []);

  return (
    <div
      ref={ref}
      style={{ position: "fixed", left: 0, top: 0, width: "100vw", height: "100vh", background: "#ffffff" }}
    />
  );
}
